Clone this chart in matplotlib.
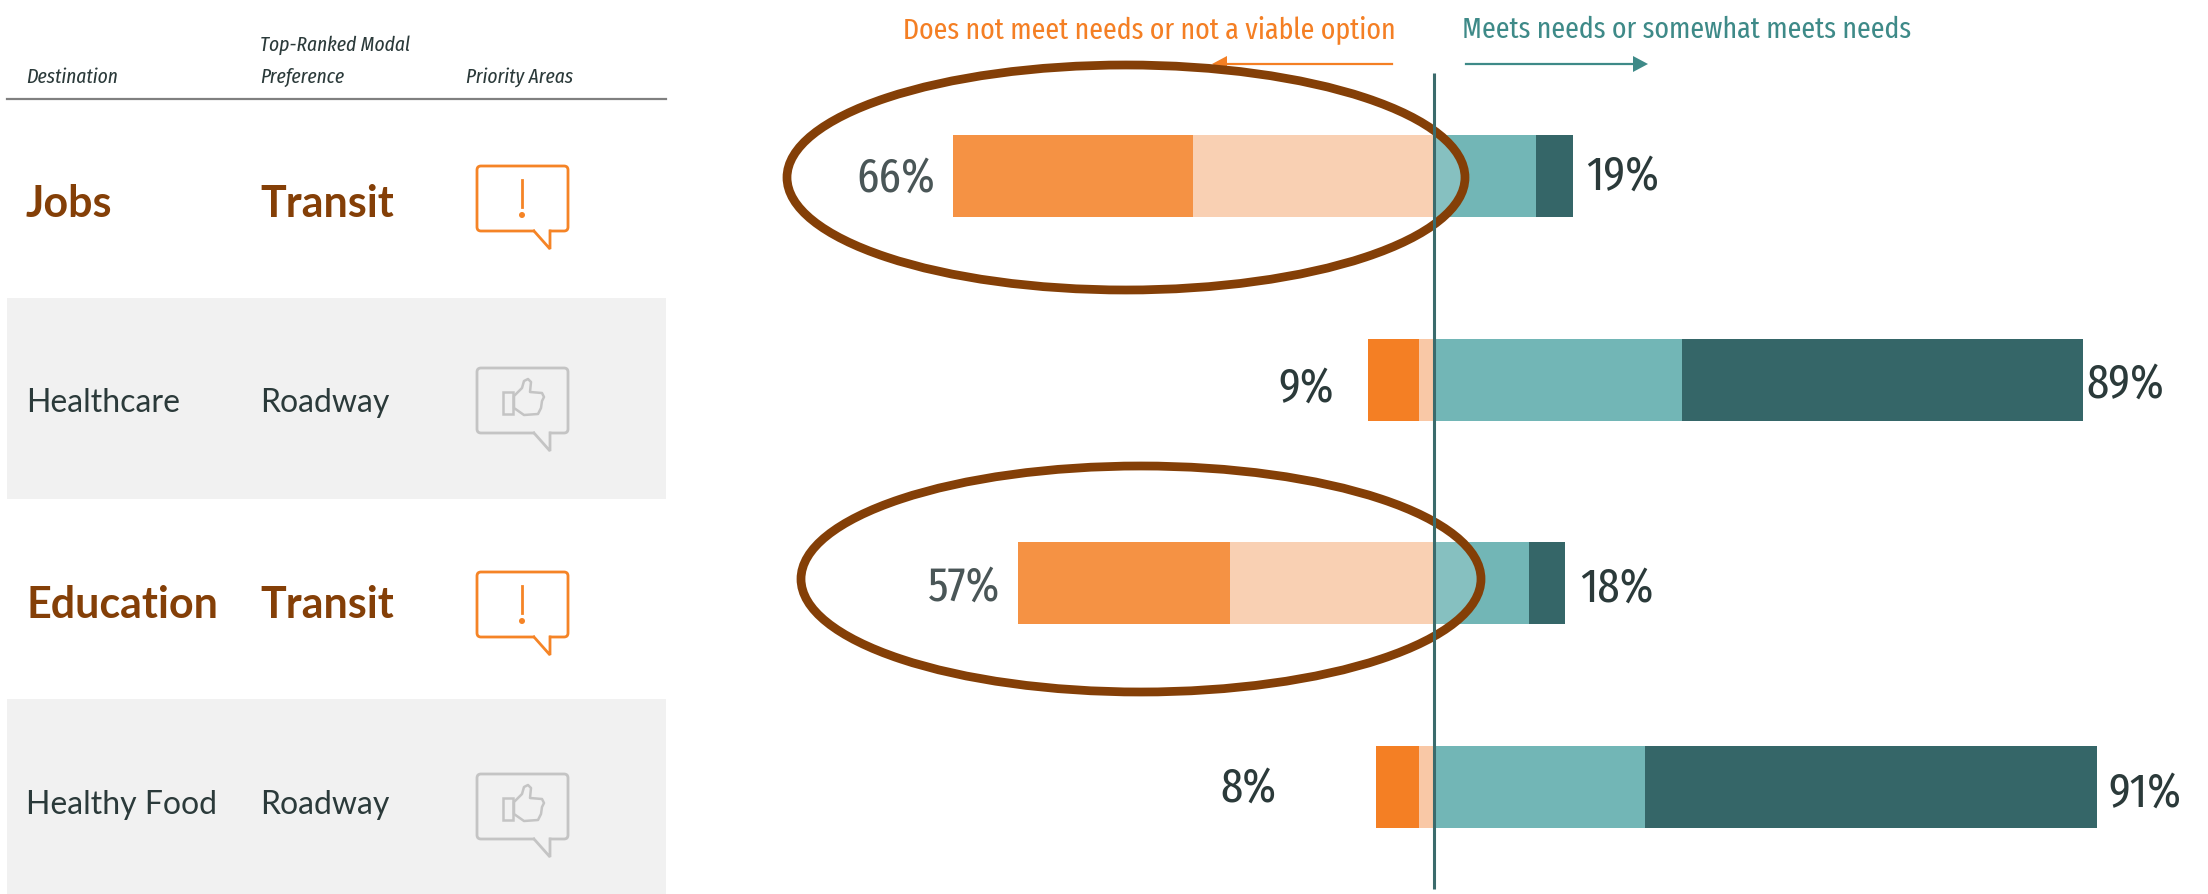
import matplotlib
matplotlib.use("Agg")
import matplotlib.pyplot as plt
from matplotlib.patches import Ellipse, FancyBboxPatch, Polygon, Rectangle, Circle

destinations = ["Jobs", "Healthcare", "Education", "Healthy Food"]
modes = ["Transit", "Roadway", "Transit", "Roadway"]
priority = [True, False, True, False]

# share of respondents, left side then right side of the zero line
not_viable = [33, 7, 29, 6]
does_not_meet = [33, 2, 28, 2]
somewhat_meets = [14, 34, 13, 29]
meets = [5, 55, 5, 62]
left_labels = [66, 9, 57, 8]
right_labels = [19, 89, 18, 91]

BROWN = "#843f07"
DARK = "#2b3a3a"
ORANGE = "#f47f24"
TEAL = "#3e8a88"
ICON_GREY = "#c4c4c4"
NARROW = ["Fira Sans Extra Condensed", "Sofia Sans Extra Condensed", "Roboto Condensed", "DejaVu Sans"]
LATO = ["Lato", "DejaVu Sans"]

W, H = 2208, 895
ZERO_X, PX_PER_PCT = 1434, 7.29
ROW0_Y, ROW_STEP = 177, 203.7

fig = plt.figure(figsize=(W / 100, H / 100), dpi=100)
tb = fig.add_axes([0, 0, 1, 1], zorder=0)
tb.set_xlim(0, W)
tb.set_ylim(H, 0)
tb.axis("off")

ax = fig.add_axes([0, 0, 1, 1], zorder=1)
ax.set_xlim(-ZERO_X / PX_PER_PCT, (W - ZERO_X) / PX_PER_PCT)
ax.set_ylim((H - ROW0_Y) / ROW_STEP, -ROW0_Y / ROW_STEP)
ax.axis("off")
ax.patch.set_alpha(0)

# table side
tb.add_patch(Rectangle((7, 299), 659, 201, color="#f1f1f1", lw=0))
tb.add_patch(Rectangle((7, 700), 659, 195, color="#f1f1f1", lw=0))
tb.plot([7, 666], [99.5, 99.5], color="#808080", lw=1.6)

hdr = dict(family=NARROW, style="italic", fontsize=15.2, color=DARK, va="baseline")
tb.text(26, 83, "Destination", **hdr)
tb.text(260, 51, "Top-Ranked Modal", **hdr)
tb.text(260, 83, "Preference", **hdr)
tb.text(466, 83, "Priority Areas", **hdr)

row_base = [217, 412, 618, 814]
icon_top = [167, 369, 573, 775]
hand = [(37, 28), (45, 20), (47, 13), (51, 11), (54, 14), (53, 24), (65, 25), (67, 29),
        (65, 33), (64, 40), (61, 46), (47, 47), (37, 40)]


def icon(top, alert):
    col = "#f58426" if alert else ICON_GREY
    x0, x1, y0, y1 = 477, 568, top, top + 65
    tb.add_patch(FancyBboxPatch((x0 + 3, y0 + 3), x1 - x0 - 6, y1 - y0 - 6,
                                boxstyle="round,pad=3,rounding_size=4",
                                fc="none", ec=col, lw=2))
    bg = "white" if alert else "#f1f1f1"
    tb.plot([535, 549], [y1, y1], color=bg, lw=3, solid_capstyle="butt", zorder=3)
    tb.plot([534, 550, 550], [y1, y1 + 18, y1], color=col, lw=2,
            solid_joinstyle="miter", zorder=4)
    if alert:
        tb.plot([522, 522], [top + 14, top + 41], color=col, lw=2)
        tb.add_patch(Circle((522, top + 49), 3, color=col, lw=0))
    else:
        tb.add_patch(Rectangle((x0 + 26, top + 24), 10, 22, fc="none", ec=col, lw=1.8))
        tb.add_patch(Polygon([(x0 + a, top + b) for a, b in hand], fc="none", ec=col,
                             lw=1.8, joinstyle="round"))


for i in range(4):
    if priority[i]:
        style = dict(family=LATO, fontweight="bold", fontsize=31, color=BROWN)
    else:
        style = dict(family=LATO, fontsize=23, color=DARK)
    tb.text(26, row_base[i], destinations[i], va="baseline", **style)
    tb.text(260, row_base[i], modes[i], va="baseline", **style)
    icon(icon_top[i], priority[i])

# bars
rows = list(range(4))
h = 82 / ROW_STEP
lefts = [-(a + b) for a, b in zip(not_viable, does_not_meet)]
ax.barh(rows, not_viable, left=lefts, height=h, color=ORANGE, lw=0)
ax.barh(rows, does_not_meet, left=[-b for b in does_not_meet], height=h, color="#f9c8a6", lw=0)
ax.barh(rows, somewhat_meets, height=h, color="#72b6b6", lw=0)
ax.barh(rows, meets, left=somewhat_meets, height=h, color="#356668", lw=0)

# circled rows, the fill lightens the bars a little
for cx, cy, w_, h_ in [(1126, 178.5, 678, 225), (1141, 580, 680, 226)]:
    ax.add_patch(Ellipse((cx, cy), w_, h_, fc=(1, 1, 1, 0.15), ec=BROWN, lw=6.3,
                         transform=tb.transData, zorder=5))

ax.plot([0, 0], [(74 - ROW0_Y) / ROW_STEP, (890 - ROW0_Y) / ROW_STEP], color="#3b6b6c",
        lw=2.2, zorder=6, solid_capstyle="butt")

# value labels, hand placed in the original
left_pos = [(935, 179), (1334, 389), (1000, 588), (1277, 789)]
right_pos = [(1586, 177), (2086, 385), (1580, 589), (2108, 794)]
lab = dict(family=NARROW, fontsize=35, va="center", zorder=7)
for i in rows:
    col = "#4a5657" if priority[i] else DARK
    tb_x, tb_y = left_pos[i]
    ax.text(tb_x, tb_y, f"{left_labels[i]}%", ha="right", color=col, transform=tb.transData, **lab)
    tb_x, tb_y = right_pos[i]
    ax.text(tb_x, tb_y, f"{right_labels[i]}%", ha="left", color=DARK, transform=tb.transData, **lab)

# direction headers
tb.text(903, 38, "Does not meet needs or not a viable option", family=NARROW,
        fontsize=21.75, color=ORANGE, va="baseline")
tb.text(1462, 38, "Meets needs or somewhat meets needs", family=NARROW,
        fontsize=21.75, color=TEAL, va="baseline")
tb.plot([1226, 1392], [65, 65], color=ORANGE, lw=1.6)
tb.add_patch(Polygon([(1212, 65), (1227, 57), (1227, 73)], color=ORANGE, lw=0))
tb.plot([1466, 1634], [65, 65], color=TEAL, lw=1.6)
tb.add_patch(Polygon([(1648, 65), (1633, 57), (1633, 73)], color=TEAL, lw=0))

fig.savefig("out.png", dpi=100)
